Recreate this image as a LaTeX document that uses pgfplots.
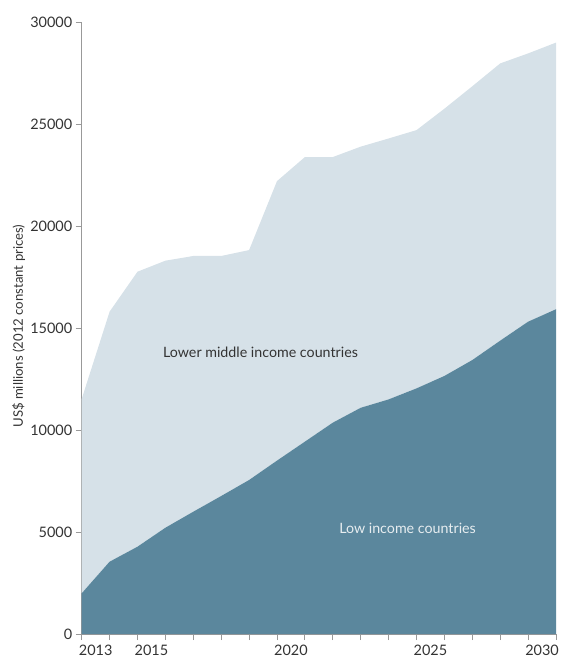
\documentclass[border=0pt]{standalone}
\usepackage{pgfplots}
\pgfplotsset{compat=1.18}
\usepackage{pgfplotstable}
\usepackage{fontspec}
\setmainfont{Lato}
\definecolor{lowinc}{HTML}{5B879D}
\definecolor{lmic}{HTML}{D6E1E8}
\definecolor{axisgray}{HTML}{999999}
\definecolor{txt}{HTML}{333333}
\pgfplotstableread{
year low lmic
2013 1995 9525
2014 3545 12255
2015 4280 13480
2016 5210 13090
2017 5995 12535
2018 6765 11765
2019 7550 11270
2020 8500 13700
2021 9430 13950
2022 10360 13020
2023 11090 12800
2024 11500 12790
2025 12040 12660
2026 12650 13100
2027 13430 13420
2028 14380 13590
2029 15310 13150
2030 15920 13070
}\datatable
\begin{document}
\begin{tikzpicture}
\begin{axis}[
  at={(0,0)}, anchor=origin,
  scale only axis,
  width=474.3bp, height=612bp,
  xmin=2013, xmax=2030, ymin=0, ymax=30000,
  axis lines*=left,
  axis line style={draw=axisgray, line width=0.8pt},
  tick style={draw=axisgray, line width=0.8pt},
  tick align=outside,
  major tick length=6bp,
  xtick={2013,...,2030},
  xticklabels={},
  extra x ticks={2013.5,2015.5,2020.5,2025.5,2029.5},
  extra x tick labels={2013,2015,2020,2025,2030},
  extra x tick style={major tick style={draw=none}, xticklabel style={yshift=-1.5bp}},
  ytick={0,5000,...,30000},
  scaled y ticks=false,
  yticklabel style={/pgf/number format/1000 sep={}},
  /pgf/number format/assume math mode=true,
  tick label style={font=\fontsize{14.5}{16}\selectfont, text=txt},
  stack plots=y,
  clip=false,
]
\addplot[fill=lowinc, draw=none] table[x=year, y=low] {\datatable} \closedcycle;
\addplot[fill=lmic, draw=none] table[x=year, y=lmic] {\datatable} \closedcycle;
\coordinate (lmiclab) at (rel axis cs:0.377,0.461);
\coordinate (lowlab) at (rel axis cs:0.687,0.172);
\coordinate (ylab) at (rel axis cs:0,0.503);
\end{axis}
\node[font=\fontsize{14.3}{16}\selectfont, text=txt] at (lmiclab) {Lower middle income countries};
\node[font=\fontsize{14.3}{16}\selectfont, text=white!85!lowinc] at (lowlab) {Low income countries};
\node[xshift=-63.2bp, rotate=90, font=\fontsize{13.2}{15}\selectfont, text=txt] at (ylab) {US\$ millions (2012 constant prices)};
\path[use as bounding box] (-81.7bp,-28bp) rectangle (475.3bp,634bp);
\end{tikzpicture}
\end{document}
